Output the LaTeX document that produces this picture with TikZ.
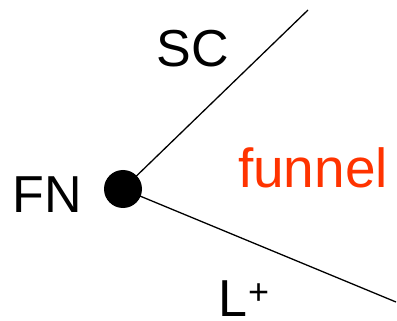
\documentclass[tikz,border=0pt]{standalone}
\usepackage{fontspec}
\setmainfont{Liberation Sans}
\usepackage{tikz}
\usetikzlibrary{positioning,calc}
\definecolor{funnelRed}{RGB}{255,51,0}

\begin{document}
\begin{tikzpicture}[x=1pt, y=-1pt, every node/.style={font=\fontsize{52}{60}\selectfont, inner sep=0pt}]
        \useasboundingbox (0,0) rectangle (397,321);

        \node[circle, fill=black, minimum size=38pt] (fnDot) at (123,189) {};
        \coordinate (scEnd) at (308,10);
        \coordinate (lEnd) at (396,302);
        \draw[line width=1.3pt] (fnDot.center) -- (scEnd);
        \draw[line width=1.3pt] (fnDot.center) -- (lEnd);

        \node[anchor=base] (fn) at (47.5,212) {FN};
        \node[anchor=base] (sc) at (193,67) {SC};
        \node[anchor=base, text=funnelRed, font=\fontsize{55}{60}\selectfont] (funnel) at (313,187) {funnel};
        \node[anchor=base west] (lplus) at (218,316) {L\kern1pt\raisebox{12pt}{\fontsize{36}{40}\selectfont +}};
    \end{tikzpicture}
\end{document}
